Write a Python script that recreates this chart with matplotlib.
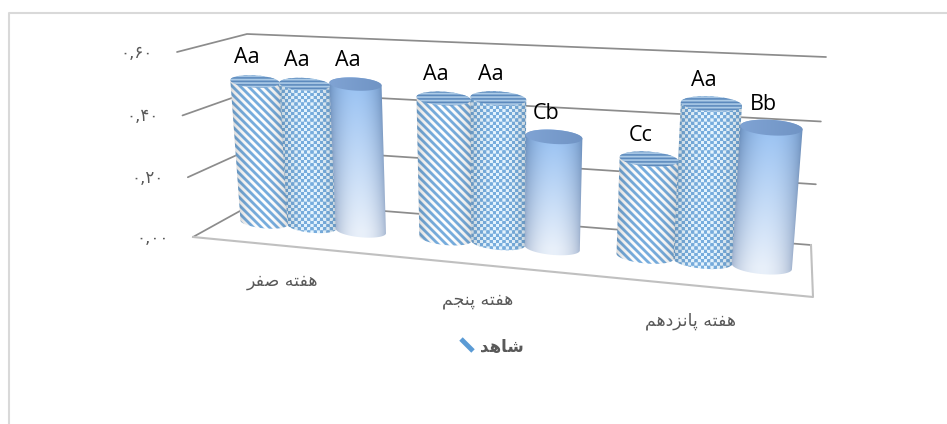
import numpy as np
import matplotlib
matplotlib.use('Agg')
import matplotlib.pyplot as plt
from matplotlib.patches import Polygon

W, H = 947, 424

categories = ['هفته صفر', 'هفته پنجم', 'هفته پانزدهم']
legend_label = 'شاهد'
series_1 = [0.48, 0.46, 0.31]
series_2 = [0.48, 0.47, 0.49]
series_3 = [0.49, 0.36, 0.43]
labels_1 = ['Aa', 'Aa', 'Cc']
labels_2 = ['Aa', 'Aa', 'Aa']
labels_3 = ['Aa', 'Cb', 'Bb']
y_ticks = [0.0, 0.2, 0.4, 0.6]
y_tick_labels = ['۰,۰۰', '۰,۲۰', '۰,۴۰', '۰,۶۰']

# corners of the 3d box in pixels: front/back, left/right, bottom/top
FLB, FRB, BLB, BRB = (193, 237), (813, 297), (258, 201), (811, 245)
FLT, FRT, BLT, BRT = (177, 52), (830, 89), (247, 34), (826, 57)

GRID = '#8c8c8c'
TEXT = '#595959'

# isolated, final, initial, medial
FORMS = {
    'ه': '\uFEE9\uFEEA\uFEEB\uFEEC', 'ف': '\uFED1\uFED2\uFED3\uFED4',
    'ت': '\uFE95\uFE96\uFE97\uFE98', 'ص': '\uFEB9\uFEBA\uFEBB\uFEBC',
    'پ': '\uFB56\uFB57\uFB58\uFB59', 'ن': '\uFEE5\uFEE6\uFEE7\uFEE8',
    'ج': '\uFE9D\uFE9E\uFE9F\uFEA0', 'م': '\uFEE1\uFEE2\uFEE3\uFEE4',
    'ش': '\uFEB5\uFEB6\uFEB7\uFEB8',
    'ا': '\uFE8D\uFE8E', 'ر': '\uFEAD\uFEAE', 'ز': '\uFEAF\uFEB0', 'د': '\uFEA9\uFEAA',
}


def shape(text):
    # matplotlib has no arabic shaping, so pick the joined forms by hand and reverse
    out = []
    for i, c in enumerate(text):
        if c not in FORMS:
            out.append(c)
            continue
        prev = text[i - 1] if i > 0 else ' '
        nxt = text[i + 1] if i + 1 < len(text) else ' '
        joins_prev = prev in FORMS and len(FORMS[prev]) == 4
        joins_next = nxt in FORMS and len(FORMS[c]) == 4
        out.append(FORMS[c][(1 if joins_prev else 0) + (2 if joins_next else 0)])
    return ''.join(reversed(out))


def project(n, v, h):
    # n along the categories 0..1, v depth 0 back..1 front, h value
    u = 0.86 * n + 0.14 * n ** 2
    t = np.interp(h, y_ticks, [0, 0.323, 0.657, 1])
    res = []
    for k in range(2):
        front_b = FLB[k] + (FRB[k] - FLB[k]) * u
        back_b = BLB[k] + (BRB[k] - BLB[k]) * u
        front_t = FLT[k] + (FRT[k] - FLT[k]) * u
        back_t = BLT[k] + (BRT[k] - BLT[k]) * u
        bottom = back_b + (front_b - back_b) * v
        top = back_t + (front_t - back_t) * v
        res.append(bottom + (top - bottom) * t)
    return np.array(res)


def ellipse(n, r, h, start=0, stop=2 * np.pi):
    c = project(n, 0.5, h)
    right = project(n + r, 0.5, h) - c
    b = 0.125 * 2 * np.linalg.norm(right)
    a = np.linspace(start, stop, 60)
    return c + np.outer(np.cos(a), right) + np.outer(np.sin(a), [0, b])


def stripes(X, Y):
    return np.clip(0.5 + 1.6 * np.sin(2 * np.pi * (X - Y) / 8.0), 0, 1)


def checks(X, Y):
    return np.clip(0.5 + 3 * np.sin(np.pi * X / 3.2) * np.sin(np.pi * Y / 3.2) + 0.1, 0, 1)


def draw_bar(ax, n, r, val, kind):
    top = ellipse(n, r, val)
    low = ellipse(n, r, 0)
    body = np.vstack([ellipse(n, r, val, np.pi, 2 * np.pi), ellipse(n, r, 0, 0, np.pi)])
    x0, x1 = int(body[:, 0].min()) - 1, int(body[:, 0].max()) + 2
    y0, y1 = int(body[:, 1].min()) - 1, int(body[:, 1].max()) + 2
    X, Y = np.meshgrid(np.arange(x0, x1) + 0.5, np.arange(y0, y1) + 0.5)
    # position across and along the cylinder, used for the shading
    fy = np.clip((Y - top[:, 1].mean()) / (low[:, 1].mean() - top[:, 1].mean()), 0, 1)
    left = top[:, 0].min() + (low[:, 0].min() - top[:, 0].min()) * fy
    right = top[:, 0].max() + (low[:, 0].max() - top[:, 0].max()) * fy
    s = np.clip((X - left) / (right - left), 0, 1)
    edge = np.sin(np.pi * s) ** 0.55

    blue = np.array([0.47, 0.68, 0.87])
    if kind == 2:
        col_top, col_low = np.array([0.60, 0.76, 0.95]), np.array([0.91, 0.94, 0.98])
        dark_top, dark_low = np.array([0.40, 0.54, 0.72]), np.array([0.62, 0.69, 0.80])
        base = col_top + (col_low - col_top) * fy[..., None]
        dark = dark_top + (dark_low - dark_top) * fy[..., None]
        img = dark + (base - dark) * edge[..., None]
    else:
        p = stripes(X, Y) if kind == 0 else checks(X, Y)
        light = np.array([1.0, 1.0, 1.0]) if kind == 0 else np.array([0.90, 0.96, 1.0])
        img = light + (blue - light) * p[..., None]
        img = img * (0.84 + 0.16 * edge[..., None])
    im = ax.imshow(img, extent=(x0, x1, y1, y0), zorder=3, interpolation='nearest', aspect='auto')
    im.set_clip_path(Polygon(body, closed=True, transform=ax.transData))

    # cap
    if kind == 2:
        cap = np.array([0.50, 0.64, 0.83]) + np.array([-0.06, -0.06, -0.06]) * s[..., None]
    else:
        p = 0.5 + 0.5 * np.sin(2 * np.pi * Y / 3.5)
        cap_light = np.array([0.68, 0.80, 0.91])
        cap_dark = np.array([0.36, 0.54, 0.74])
        cap = cap_light + (cap_dark - cap_light) * p[..., None]
    im2 = ax.imshow(cap, extent=(x0, x1, y1, y0), zorder=3.1, interpolation='nearest', aspect='auto')
    im2.set_clip_path(Polygon(top, closed=True, transform=ax.transData))


fig = plt.figure(figsize=(W / 100, H / 100), dpi=100)
ax = fig.add_axes([0, 0, 1, 1])
ax.set_xlim(0, W)
ax.set_ylim(H, 0)
ax.axis('off')

# chart border, only the top and left edge show in the crop
ax.plot([9, 9, W], [H, 12.5, 12.5], color='#d9d9d9', lw=1.5, zorder=0)

# gridlines along side wall and back wall
for h, lab in zip(y_ticks, y_tick_labels):
    pts = np.array([project(0, 1, h), project(0, 0, h), project(1, 0, h)])
    ax.plot(pts[:, 0], pts[:, 1], color=GRID, lw=1.25, zorder=1, solid_capstyle='round')
    ax.text(pts[0, 0] - 24, pts[0, 1] + 1, lab, ha='right', va='center', color=TEXT,
            fontsize=12, family='DejaVu Sans')

# floor edges
floor = np.array([project(0, 1, 0), project(1, 1, 0), project(1, 0, 0)])
ax.plot(floor[:, 0], floor[:, 1], color='#c0c0c0', lw=1.5, zorder=1)

# bars, left to right so each one covers its left neighbour
all_series = [series_1, series_2, series_3]
all_labels = [labels_1, labels_2, labels_3]
step = 0.091
for c in range(len(categories)):
    center = (c + 0.5) / len(categories)
    for k in range(3):
        n = center + (k - 1) * step
        val = all_series[k][c]
        draw_bar(ax, n, step / 2, val, k)
        px = project(n, 0.5, val)
        ax.text(px[0] - 8, px[1] - 23.5, all_labels[k][c], ha='center', va='center',
                fontsize=15.5, family='Open Sans', color='black', zorder=5)
    px = project(center, 1, 0)
    ax.text(px[0] - 8 * center, px[1] + 35, shape(categories[c]), ha='center', va='center',
            fontsize=12.5, family='DejaVu Sans', color=TEXT)

# legend, only the first series has an entry
ax.plot([461, 473], [339, 351], color='#5b9bd5', lw=3.5, solid_capstyle='butt')
ax.text(502, 347, shape(legend_label), ha='center', va='center', fontsize=12,
        family='DejaVu Sans', weight='bold', color=TEXT)

fig.savefig('out.png', dpi=100)
